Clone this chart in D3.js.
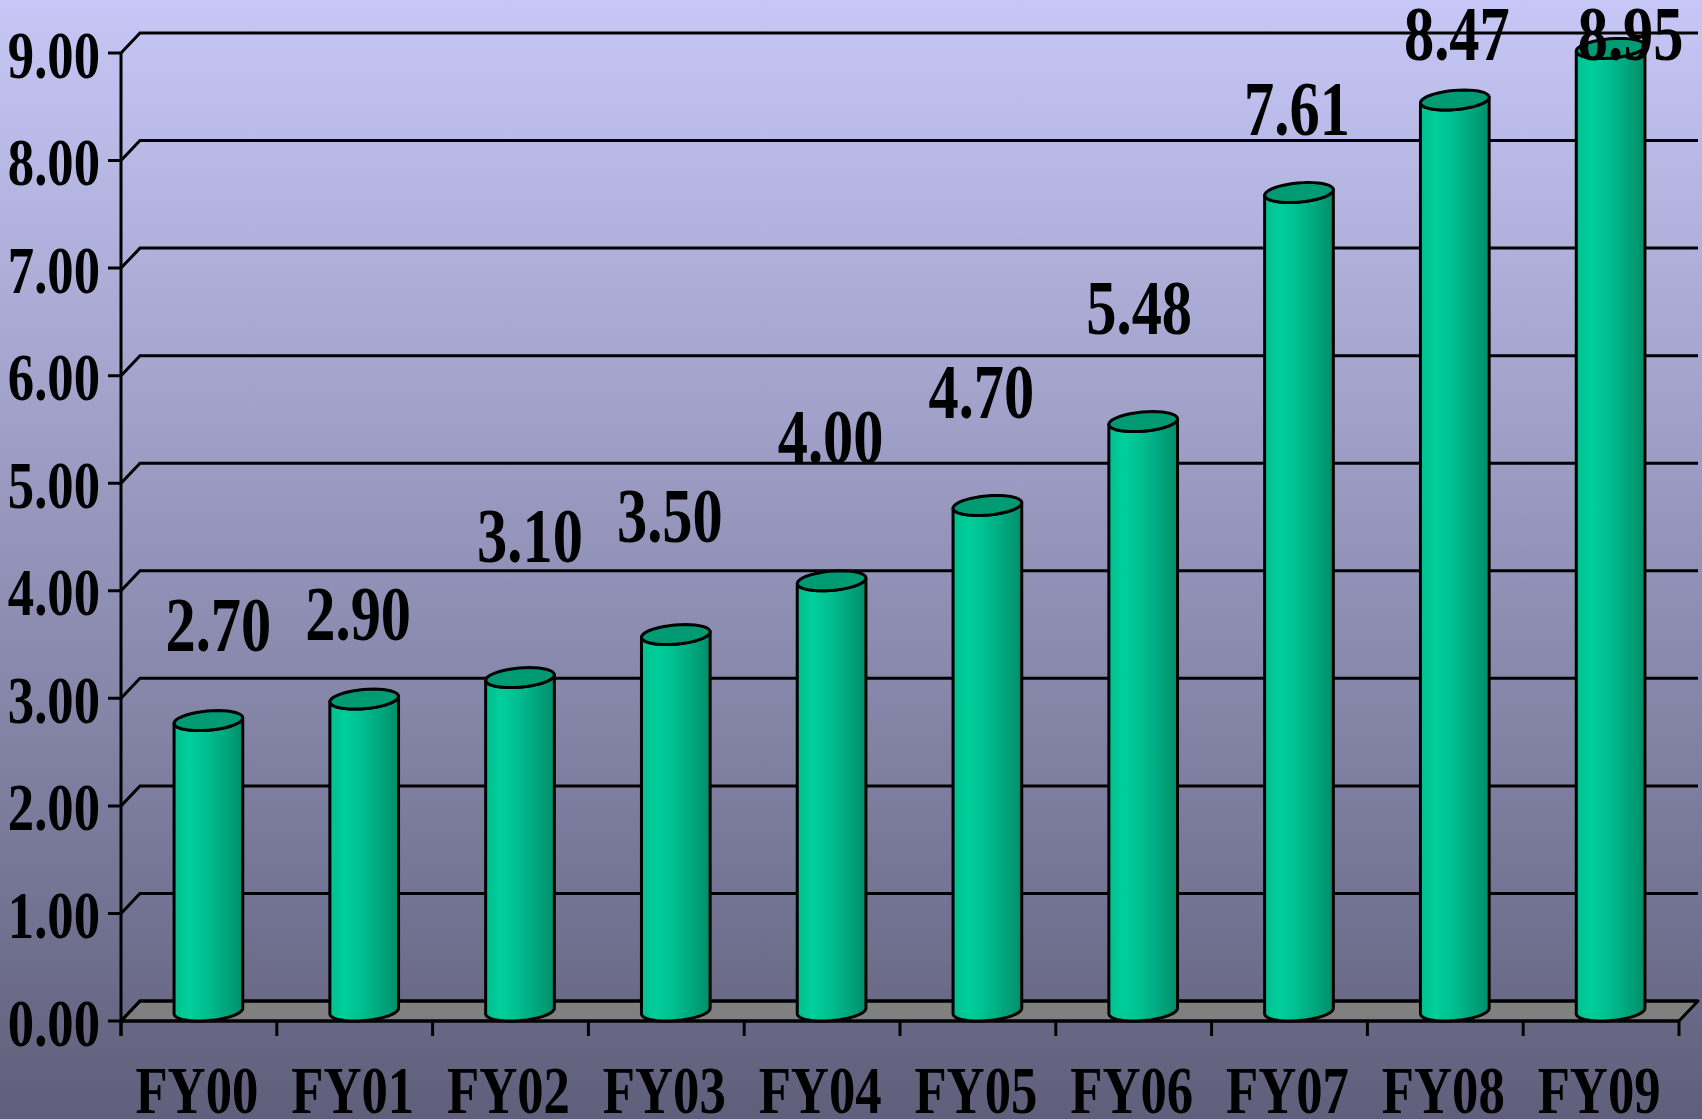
<!DOCTYPE html>
<html>
<head>
    <title>FY00 - FY09</title>
    <script src="https://d3js.org/d3.v7.min.js"></script>
    <style>
        body {
            margin: 0;
            padding: 0;
            background-color: #9090b8;
            overflow: hidden;
        }
        svg text {
            font-family: 'Liberation Serif', 'Times New Roman', serif;
            font-weight: bold;
            fill: #000;
        }
    </style>
</head>
<body>
    <svg id="chart" width="1702" height="1119"></svg>

    <script>
        // data
        const categories = ["FY00", "FY01", "FY02", "FY03", "FY04", "FY05", "FY06", "FY07", "FY08", "FY09"];
        const values = [2.70, 2.90, 3.10, 3.50, 4.00, 4.70, 5.48, 7.61, 8.47, 8.95];
        const yTicks = [0, 1, 2, 3, 4, 5, 6, 7, 8, 9];

        // hand placed value labels (pixel nudges from the bar top, like in the original slide)
        const labelLift = [80, 69, 126, 103, 128, 97, 98, 68, 50, -2];
        const labelShift = [10, -6, 10, -6, -1, -6, -4, -2, 2, 20];

        const W = 1702, H = 1119;
        const plotLeft = 121, plotRight = 1679, plotBottom = 1021, plotTop = 53;
        const depthX = 19, depthY = -20;   // 3d depth of the back wall
        const squeeze = 0.775;             // narrow bold serif look

        const svg = d3.select("#chart");
        const defs = svg.append("defs");

        const bg = defs.append("linearGradient").attr("id", "bg")
            .attr("x1", 0).attr("y1", 0).attr("x2", 0).attr("y2", 1);
        bg.append("stop").attr("offset", "0%").attr("stop-color", "#c7c7f7");
        bg.append("stop").attr("offset", "100%").attr("stop-color", "#5f5f7b");

        const barGrad = defs.append("linearGradient").attr("id", "barGrad")
            .attr("x1", 0).attr("y1", 0).attr("x2", 1).attr("y2", 0);
        [["0%", "#00c08f"], ["22%", "#00cf9b"], ["45%", "#00c091"], ["70%", "#00aa80"], ["88%", "#009a72"], ["100%", "#008d68"]]
            .forEach(s => barGrad.append("stop").attr("offset", s[0]).attr("stop-color", s[1]));

        svg.append("rect").attr("width", W).attr("height", H).attr("fill", "url(#bg)");

        const x = d3.scaleBand().domain(categories).range([plotLeft, plotRight]);
        const y = d3.scaleLinear().domain([0, 9]).range([plotBottom, plotTop]);

        // floor
        svg.append("path")
            .attr("d", `M${plotLeft},${plotBottom} L${plotRight},${plotBottom} L${plotRight + depthX},${plotBottom + depthY} L${plotLeft + depthX},${plotBottom + depthY} Z`)
            .attr("fill", "#808080")
            .attr("stroke", "#000")
            .attr("stroke-width", 3)
            .attr("stroke-linejoin", "round");

        // gridlines on back wall
        const grid = svg.append("g");
        yTicks.forEach(t => {
            const yy = y(t);
            grid.append("path")
                .attr("d", `M${plotLeft - 13},${yy} L${plotLeft},${yy} L${plotLeft + depthX},${yy + depthY} L${plotRight + depthX},${yy + depthY}`)
                .attr("fill", "none")
                .attr("stroke", "#000")
                .attr("stroke-width", 3);
            grid.append("text")
                .attr("transform", `translate(${plotLeft - 21},${yy + 24.5}) scale(${squeeze},1)`)
                .attr("text-anchor", "end")
                .style("font-size", "68px")
                .text(d3.format(".2f")(t));
        });

        // axis lines
        svg.append("line")
            .attr("x1", plotLeft).attr("x2", plotLeft)
            .attr("y1", y(9)).attr("y2", plotBottom + 15)
            .attr("stroke", "#000").attr("stroke-width", 3);
        svg.append("line")
            .attr("x1", plotLeft).attr("x2", plotRight)
            .attr("y1", plotBottom).attr("y2", plotBottom)
            .attr("stroke", "#000").attr("stroke-width", 3);
        const edges = [plotLeft].concat(categories.map(c => x(c) + x.bandwidth()));
        edges.forEach(e => {
            svg.append("line")
                .attr("x1", e).attr("x2", e)
                .attr("y1", plotBottom).attr("y2", plotBottom + 15)
                .attr("stroke", "#000").attr("stroke-width", 3);
        });

        // cylinders
        const r = 33;
        const hx = depthX / 2, hy = depthY / 2;
        function pt(cx, cy, a) {
            return [cx + r * Math.cos(a) + hx * Math.sin(a), cy + hy * Math.sin(a)];
        }
        const tA = Math.atan2(hx, r);  // right silhouette angle
        function halfArc(cx, cy, from, to) {
            const pts = [];
            const n = 40;
            for (let i = 0; i <= n; i++) pts.push(pt(cx, cy, from + (to - from) * i / n));
            return pts;
        }

        const bars = svg.append("g");
        categories.forEach((c, i) => {
            const cx = x(c) + x.bandwidth() / 2 + hx;
            const cyTop = y(values[i]) + hy;
            const cyBot = y(0) + hy;
            const front = halfArc(cx, cyBot, tA + Math.PI, tA + 2 * Math.PI);
            const topFront = halfArc(cx, cyTop, tA + 2 * Math.PI, tA + Math.PI);
            const body = front.concat(topFront);
            bars.append("path")
                .attr("d", d3.line()(body) + "Z")
                .attr("fill", "url(#barGrad)")
                .attr("stroke", "#000")
                .attr("stroke-width", 3)
                .attr("stroke-linejoin", "round");
            bars.append("path")
                .attr("d", d3.line()(halfArc(cx, cyTop, 0, 2 * Math.PI)) + "Z")
                .attr("fill", "#009b73")
                .attr("stroke", "#000")
                .attr("stroke-width", 3);
        });

        // category labels
        categories.forEach(c => {
            svg.append("text")
                .attr("transform", `translate(${x(c) + x.bandwidth() / 2 - 2},1113) scale(${squeeze},1)`)
                .attr("text-anchor", "middle")
                .style("font-size", "68px")
                .text(c);
        });

        // value labels
        categories.forEach((c, i) => {
            svg.append("text")
                .attr("transform", `translate(${x(c) + x.bandwidth() / 2 + hx + labelShift[i]},${y(values[i]) - labelLift[i]}) scale(${squeeze},1)`)
                .attr("text-anchor", "middle")
                .style("font-size", "78px")
                .text(d3.format(".2f")(values[i]));
        });
    </script>
</body>
</html>
